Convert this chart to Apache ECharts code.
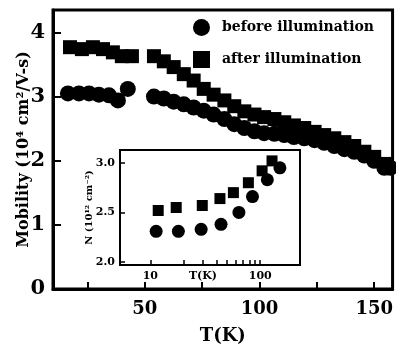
<!DOCTYPE html>
<html>
<head>
<meta charset="utf-8">
<script src="https://cdn.jsdelivr.net/npm/echarts@6/dist/echarts.min.js"></script>
<style>
  html, body { margin: 0; padding: 0; background: #fff; }
  #chart { width: 396px; height: 350px; }
</style>
</head>
<body>
<div id="chart"></div>
<script>
// main panel: mobility vs T
var afterT = [17.4, 22.6, 27.4, 31.8, 36.1, 40, 44.4, 54, 58.3, 62.6, 67, 71.3, 75.7, 80, 84.7, 89, 93.4, 97.8, 102, 106.5, 110.8, 115, 119.5, 124, 128.2, 132.6, 137, 141.3, 145.7, 150, 154.4];
var afterMu = [3.77, 3.74, 3.77, 3.74, 3.69, 3.63, 3.63, 3.63, 3.55, 3.46, 3.35, 3.25, 3.12, 3.03, 2.94, 2.85, 2.77, 2.72, 2.68, 2.65, 2.60, 2.55, 2.51, 2.45, 2.40, 2.35, 2.29, 2.23, 2.14, 2.06, 1.95];
var beforeT = [16.5, 21.3, 25.7, 30, 34.4, 38.3, 42.6, 54, 58.3, 62.6, 67, 71.3, 75.7, 80, 84.7, 89, 93.4, 97.8, 102, 106.5, 110.8, 115, 119.5, 124, 128.2, 132.6, 137, 141.3, 145.7, 150, 154.4, 157];
var beforeMu = [3.05, 3.05, 3.05, 3.03, 3.02, 2.94, 3.12, 3.00, 2.97, 2.92, 2.88, 2.83, 2.78, 2.72, 2.65, 2.57, 2.51, 2.46, 2.43, 2.42, 2.40, 2.37, 2.35, 2.32, 2.28, 2.23, 2.18, 2.14, 2.08, 2.00, 1.89, 1.89];

// inset: N vs T (log)
var insetAfterT = [11.8, 17.2, 29.7, 43, 57, 78, 104, 128];
var insetAfterN = [2.52, 2.55, 2.57, 2.64, 2.70, 2.80, 2.92, 3.02];
var insetBeforeT = [11.3, 18, 29, 44, 64, 85, 116, 151];
var insetBeforeN = [2.31, 2.31, 2.33, 2.38, 2.50, 2.66, 2.83, 2.95];

// ticks
var mainXTicks = [25, 50, 75, 100, 125, 150];
var mainXLabels = [50, 100, 150];
var mainYTicks = [0, 1, 2, 3, 4];
var insetXTicks = [10, 20, 30, 40, 50, 60, 70, 80, 90, 100];
var insetXLabels = [10, 100];
var insetYTicks = [2.0, 2.5, 3.0];

var legendNames = ['before illumination', 'after illumination'];

function pairs(xs, ys) {
  return xs.map(function (x, i) { return [x, ys[i]]; });
}

var font = 'DejaVu Serif';
var black = '#000';

var option = {
  backgroundColor: '#fff',
  animation: false,
  legend: {
    orient: 'vertical',
    left: 188,
    top: 14,
    itemWidth: 17,
    itemHeight: 17,
    itemGap: 15,
    textStyle: { color: black, fontFamily: font, fontWeight: 'bold', fontSize: 14, padding: [0, 0, 0, 7] },
    data: [
      { name: legendNames[0], icon: 'circle', itemStyle: { color: black, opacity: 1 } },
      { name: legendNames[1], icon: 'rect', itemStyle: { color: black, opacity: 1 } }
    ]
  },
  grid: [
    { left: 53, right: 3, top: 10, bottom: 57, show: true, borderColor: black, borderWidth: 3, backgroundColor: 'transparent' },
    { left: 120, right: 96, top: 150, bottom: 85, show: true, borderColor: black, borderWidth: 2, backgroundColor: '#fff' }
  ],
  xAxis: [
    {
      type: 'value', gridIndex: 0, min: 10, max: 158,
      axisLine: { lineStyle: { color: black, width: 3 } },
      axisTick: { show: true, inside: true, length: 7, lineStyle: { color: black, width: 2 }, customValues: mainXTicks },
      axisLabel: { customValues: mainXLabels, color: black, fontFamily: font, fontWeight: 'bold', fontSize: 18, margin: 11 },
      splitLine: { show: false },
      name: 'T(K)', nameLocation: 'middle', nameGap: 38, nameMoveOverlap: false,
      nameTextStyle: { color: black, fontFamily: font, fontWeight: 'bold', fontSize: 18 }
    },
    {
      type: 'log', gridIndex: 1, logBase: 10, min: 5.3, max: 230,
      axisLine: { lineStyle: { color: black, width: 2 } },
      axisTick: { show: true, inside: true, length: 5, lineStyle: { color: black, width: 1.5 }, customValues: insetXTicks },
      axisLabel: { customValues: insetXLabels, color: black, fontFamily: font, fontWeight: 'bold', fontSize: 11, margin: 6 },
      splitLine: { show: false },
      minorTick: { show: false },
      name: 'T(K)', nameLocation: 'middle', nameGap: 6, nameMoveOverlap: false,
      nameTextStyle: { color: black, fontFamily: font, fontWeight: 'bold', fontSize: 11, padding: [0, 14, 0, 0] }
    }
  ],
  yAxis: [
    {
      type: 'value', gridIndex: 0, min: 0, max: 4.35,
      axisLine: { lineStyle: { color: black, width: 3 } },
      axisTick: { show: true, inside: true, length: 8, lineStyle: { color: black, width: 2 }, customValues: mainYTicks },
      axisLabel: { customValues: mainYTicks, color: black, fontFamily: font, fontWeight: 'bold', fontSize: 21, margin: 8 },
      splitLine: { show: false },
      name: 'Mobility (10\u2074 cm\u00b2/V-s)', nameLocation: 'middle', nameGap: 21, nameMoveOverlap: false,
      nameTextStyle: { color: black, fontFamily: font, fontWeight: 'bold', fontSize: 16 }
    },
    {
      type: 'value', gridIndex: 1, min: 1.97, max: 3.13,
      axisLine: { lineStyle: { color: black, width: 2 } },
      axisTick: { show: true, inside: true, length: 5, lineStyle: { color: black, width: 1.5 }, customValues: insetYTicks },
      axisLabel: {
        customValues: insetYTicks, color: black, fontFamily: font, fontWeight: 'bold', fontSize: 11, margin: 5,
        formatter: function (v) { return v.toFixed(1); }
      },
      splitLine: { show: false },
      name: 'N (10\u00b9\u00b2 cm\u207b\u00b2)', nameLocation: 'middle', nameGap: 26, nameMoveOverlap: false,
      nameTextStyle: { color: black, fontFamily: font, fontWeight: 'bold', fontSize: 10 }
    }
  ],
  series: [
    {
      name: legendNames[0], type: 'scatter', xAxisIndex: 0, yAxisIndex: 0,
      symbol: 'circle', symbolSize: 16, itemStyle: { color: black, opacity: 1 },
      data: pairs(beforeT, beforeMu)
    },
    {
      name: legendNames[1], type: 'scatter', xAxisIndex: 0, yAxisIndex: 0,
      symbol: 'rect', symbolSize: 14, itemStyle: { color: black, opacity: 1 },
      data: pairs(afterT, afterMu)
    },
    {
      name: 'inset before', type: 'scatter', xAxisIndex: 1, yAxisIndex: 1,
      symbol: 'circle', symbolSize: 13, itemStyle: { color: black, opacity: 1 },
      data: pairs(insetBeforeT, insetBeforeN)
    },
    {
      name: 'inset after', type: 'scatter', xAxisIndex: 1, yAxisIndex: 1,
      symbol: 'rect', symbolSize: 11, itemStyle: { color: black, opacity: 1 },
      data: pairs(insetAfterT, insetAfterN)
    }
  ]
};

var chart = echarts.init(document.getElementById('chart'));
chart.setOption(option);
</script>
</body>
</html>
